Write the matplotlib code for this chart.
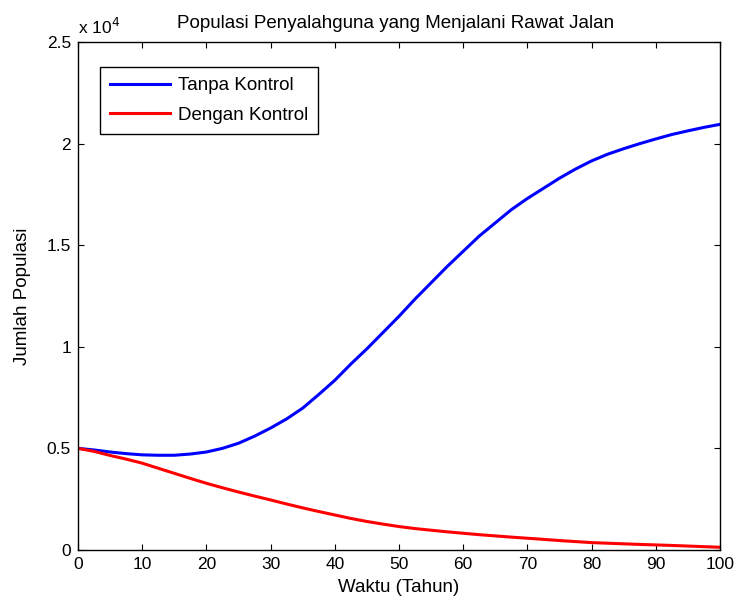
import matplotlib
matplotlib.use("Agg")
from matplotlib import pyplot as plt
from matplotlib.ticker import FuncFormatter

# values, every 2.5 years
tahun = [0, 2.5, 5, 7.5, 10, 12.5, 15, 17.5, 20, 22.5, 25, 27.5, 30, 32.5, 35, 37.5,
         40, 42.5, 45, 47.5, 50, 52.5, 55, 57.5, 60, 62.5, 65, 67.5, 70, 72.5, 75,
         77.5, 80, 82.5, 85, 87.5, 90, 92.5, 95, 97.5, 100]
tanpa_kontrol = [5000, 4920, 4820, 4740, 4680, 4660, 4660, 4720, 4820, 5000, 5250,
                 5600, 6000, 6450, 6980, 7650, 8350, 9150, 9900, 10700, 11500,
                 12350, 13150, 13950, 14700, 15450, 16100, 16750, 17300, 17800, 18300,
                 18750, 19150, 19480, 19750, 20000, 20230, 20450, 20630, 20800, 20950]
dengan_kontrol = [5000, 4850, 4650, 4470, 4270, 4020, 3770, 3520, 3280, 3060, 2850,
                  2650, 2460, 2260, 2070, 1890, 1720, 1550, 1400, 1270, 1150,
                  1050, 970, 890, 820, 750, 690, 630, 575, 520, 460,
                  410, 360, 330, 300, 270, 246, 220, 190, 160, 130]

plt.rcParams['font.family'] = ['Liberation Sans', 'DejaVu Sans']
fs = 12.5   # tick labels
fl = 13.5   # axis labels, legend, title

fig = plt.figure(figsize=(7.38, 6.01), dpi=100)
ax = fig.add_axes([0.1057, 0.085, 0.8699, 0.845])

ax.plot(tahun, tanpa_kontrol, color='#0000ff', linewidth=2.2, label='Tanpa Kontrol')
ax.plot(tahun, dengan_kontrol, color='#ff0000', linewidth=2.2, label='Dengan Kontrol')

ax.set_xlim(0, 100)
ax.set_ylim(0, 25000)
ax.set_xticks(range(0, 101, 10))
ax.set_yticks([0, 5000, 10000, 15000, 20000, 25000])
ax.yaxis.set_major_formatter(FuncFormatter(lambda v, p: f"{v / 1e4:g}"))
ax.tick_params(direction='in', top=True, right=True, length=4, labelsize=fs, pad=5)
for s in ax.spines.values():
    s.set_linewidth(1)

ax.text(0.0, 1.01, r'x 10$^{4}$', transform=ax.transAxes, fontsize=fs,
        ha='left', va='bottom')
ax.set_title('Populasi Penyalahguna yang Menjalani Rawat Jalan', fontsize=fl,
             pad=10, x=0.494)
ax.set_xlabel('Waktu (Tahun)', fontsize=fl, labelpad=5)
ax.set_ylabel('Jumlah Populasi', fontsize=fl, labelpad=11)

leg = ax.legend(loc='upper left', bbox_to_anchor=(0.034, 0.951), fancybox=False,
                framealpha=1, edgecolor='black', handlelength=3.2, handletextpad=0.4,
                borderpad=0.55, labelspacing=0.65, fontsize=fl, borderaxespad=0)
leg.get_frame().set_linewidth(1)

fig.savefig('out.png', dpi=100)
